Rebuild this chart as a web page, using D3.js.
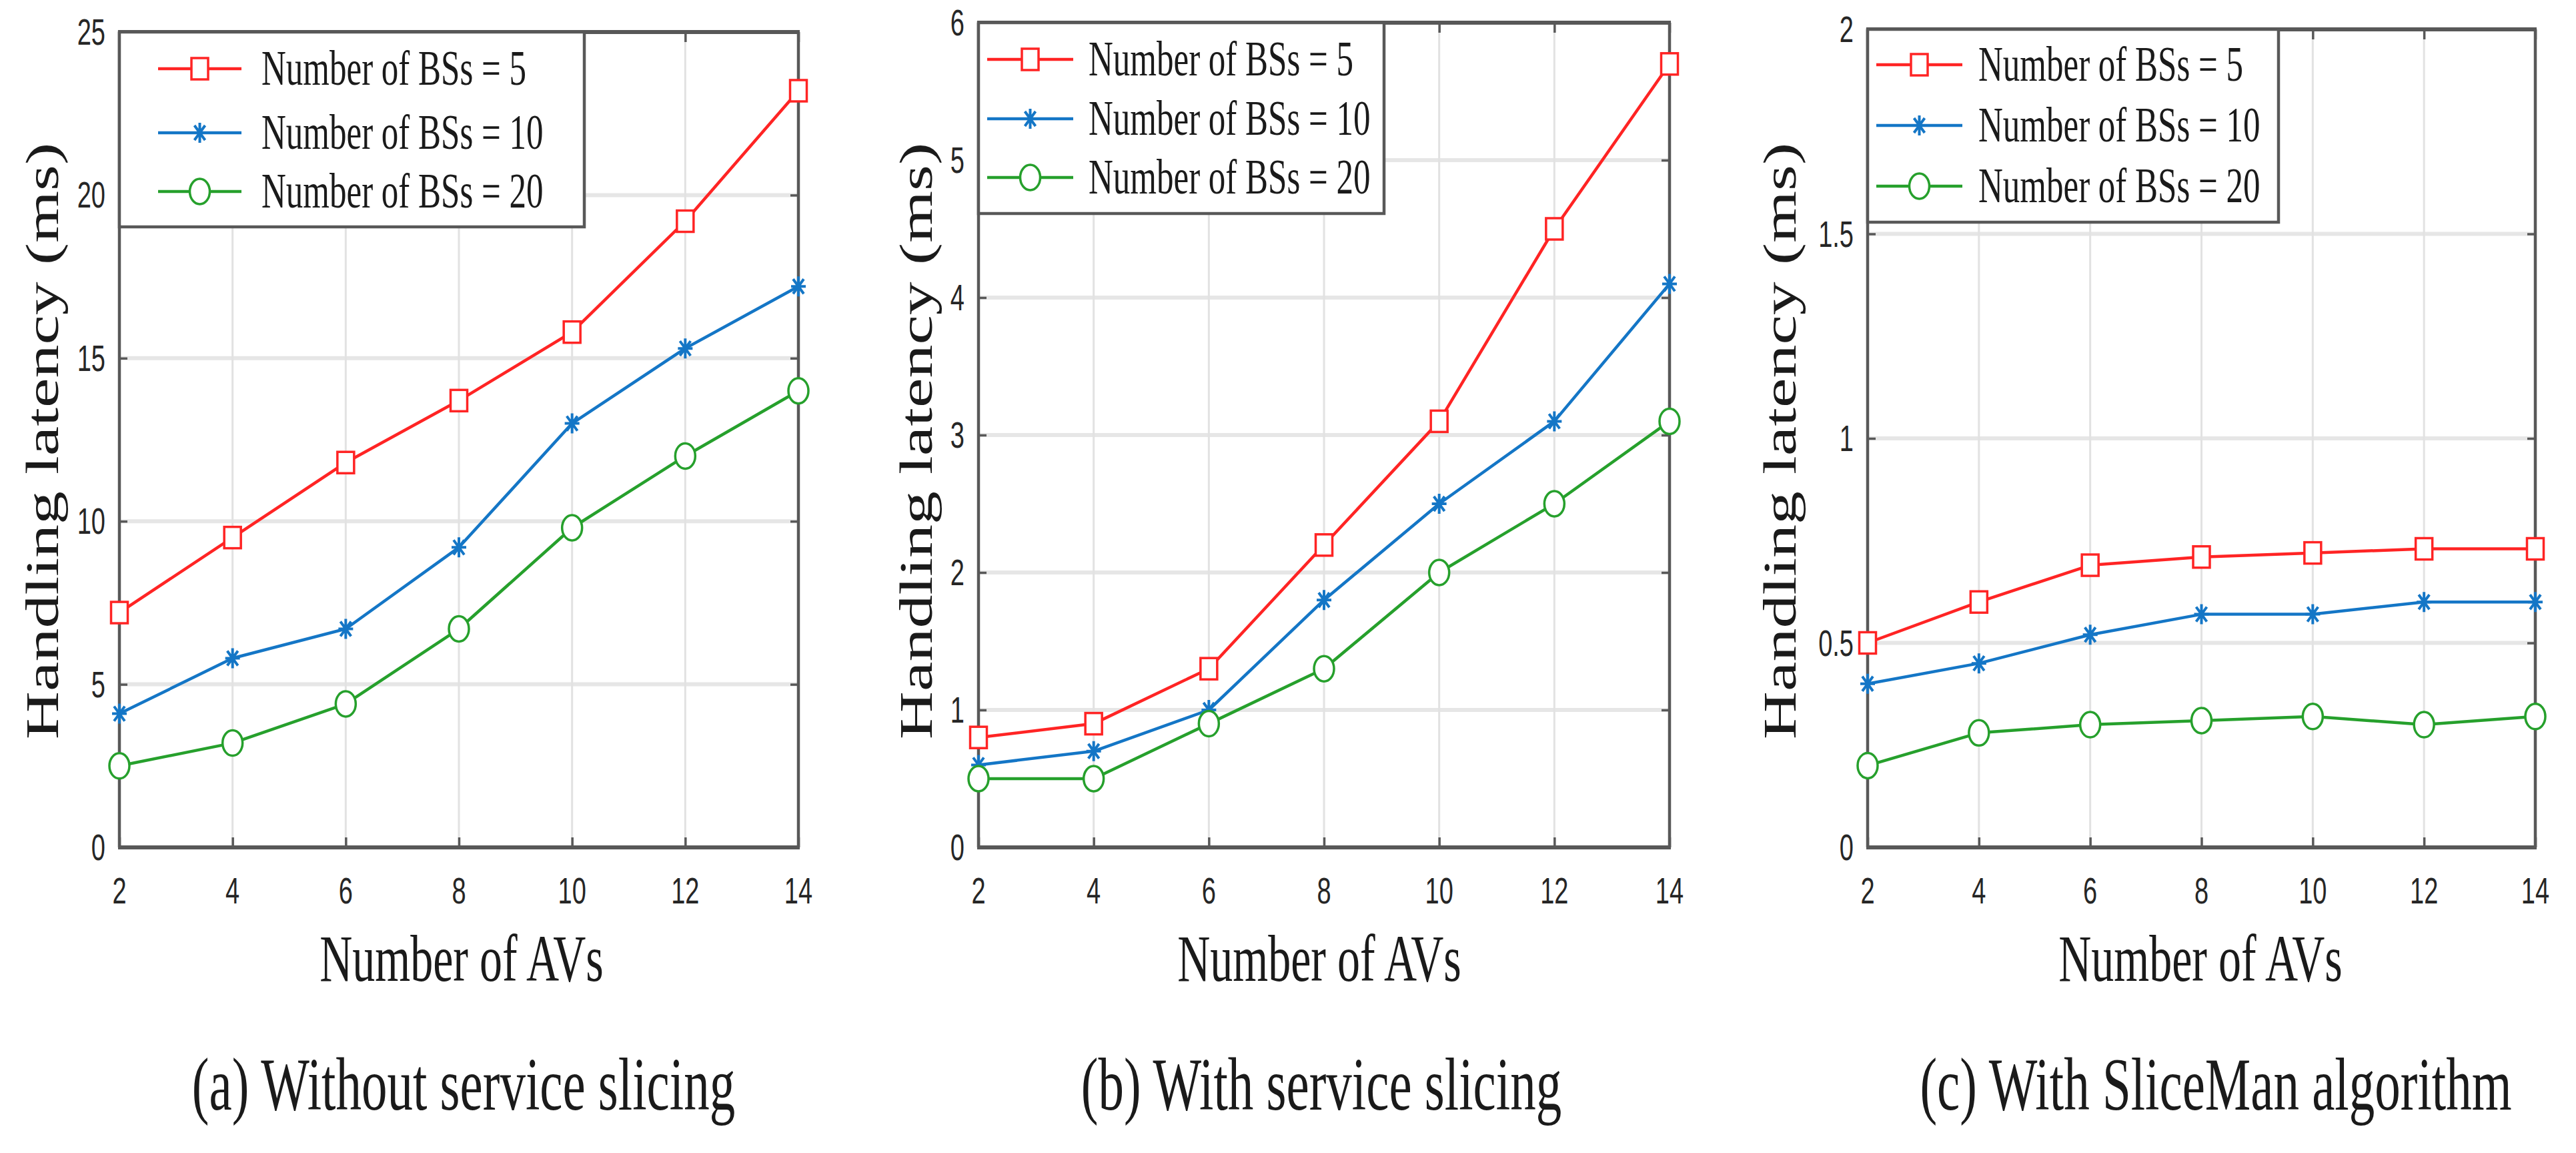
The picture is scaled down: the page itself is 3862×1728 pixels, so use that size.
<!DOCTYPE html>
<html>
<head>
<meta charset="utf-8">
<script src="https://cdn.jsdelivr.net/npm/d3@7"></script>
<style>
  html, body { margin: 0; padding: 0; background: #fff; }
  svg { display: block; }
</style>
</head>
<body>
<svg id="chart" width="3862" height="1728"></svg>
<script>
// values
var avCounts = [2, 4, 6, 8, 10, 12, 14];
var seriesNames = ['Number of BSs = 5', 'Number of BSs = 10', 'Number of BSs = 20'];

var noSlicingBS5  = [7.2, 9.5, 11.8, 13.7, 15.8, 19.2, 23.2];
var noSlicingBS10 = [4.1, 5.8, 6.7, 9.2, 13.0, 15.3, 17.2];
var noSlicingBS20 = [2.5, 3.2, 4.4, 6.7, 9.8, 12.0, 14.0];

var slicingBS5  = [0.8, 0.9, 1.3, 2.2, 3.1, 4.5, 5.7];
var slicingBS10 = [0.6, 0.7, 1.0, 1.8, 2.5, 3.1, 4.1];
var slicingBS20 = [0.5, 0.5, 0.9, 1.3, 2.0, 2.5, 3.1];

var sliceManBS5  = [0.5, 0.6, 0.69, 0.71, 0.72, 0.73, 0.73];
var sliceManBS10 = [0.4, 0.45, 0.52, 0.57, 0.57, 0.6, 0.6];
var sliceManBS20 = [0.2, 0.28, 0.3, 0.31, 0.32, 0.3, 0.32];

var yTicksA = [0, 5, 10, 15, 20, 25];
var yTicksB = [0, 1, 2, 3, 4, 5, 6];
var yTicksC = [0, 0.5, 1, 1.5, 2];

var captions = ['(a) Without service slicing', '(b) With service slicing', '(c) With SliceMan algorithm'];
var xLabel = 'Number of AVs';
var yLabel = 'Handling latency (ms)';

// styling
var colors = ['#ff2424', '#1476c6', '#26a02c'];
var markers = ['square', 'star', 'circle'];
var SY = 1.45; // the source figure is stretched vertically
var serif = '"Liberation Serif", "Times New Roman", serif';
var sans = '"Liberation Sans", Arial, sans-serif';
var frameColor = '#585858';

// layout of each panel
var panels = [
  {series: [noSlicingBS5, noSlicingBS10, noSlicingBS20], ticks: yTicksA,
   left: 179, right: 1197, top: 48, bottom: 1270,
   leg: {w: 697, h: 292, line0: 58, line1: 183, text: 213, rows: [55, 151, 239]},
   yLabBase: 92, xLabCx: 692, capCx: 695},
  {series: [slicingBS5, slicingBS10, slicingBS20], ticks: yTicksB,
   left: 1467, right: 2503, top: 34, bottom: 1270,
   leg: {w: 608, h: 286, line0: 13, line1: 142, text: 165, rows: [55, 144, 232]},
   yLabBase: 70, xLabCx: 1978, capCx: 1981},
  {series: [sliceManBS5, sliceManBS10, sliceManBS20], ticks: yTicksC,
   left: 2800, right: 3801, top: 44, bottom: 1270,
   leg: {w: 616, h: 289, line0: 13, line1: 142, text: 166, rows: [53, 144, 235]},
   yLabBase: 108, xLabCx: 3299, capCx: 3322}
];

var svg = d3.select('#chart');
svg.append('rect').attr('width', 3862).attr('height', 1728).attr('fill', '#fff');

// text drawn at a baseline and stretched vertically like the source
var stretchText = function(parent, x, y, str, size, family, anchor) {
  return parent.append('text')
    .attr('transform', 'translate(' + x + ',' + y + ') scale(1,' + SY + ')')
    .attr('font-family', family)
    .attr('font-size', size)
    .attr('text-anchor', anchor || 'middle')
    .attr('fill', '#1a1a1a')
    .text(str);
};

var drawMarker = function(g, kind, color, x, y) {
  if (kind === 'square') {
    g.append('rect').attr('x', x - 12.5).attr('y', y - 16).attr('width', 25).attr('height', 32)
      .attr('fill', '#fff').attr('stroke', color).attr('stroke-width', 3.5);
  } else if (kind === 'circle') {
    g.append('ellipse').attr('cx', x).attr('cy', y).attr('rx', 15).attr('ry', 19)
      .attr('fill', '#fff').attr('stroke', color).attr('stroke-width', 3.5);
  } else {
    var a = 11, b = 15, c = 8, d = 11;
    g.append('path')
      .attr('d', 'M' + x + ',' + (y - b) + 'V' + (y + b) +
                 'M' + (x - a) + ',' + y + 'H' + (x + a) +
                 'M' + (x - c) + ',' + (y - d) + 'L' + (x + c) + ',' + (y + d) +
                 'M' + (x - c) + ',' + (y + d) + 'L' + (x + c) + ',' + (y - d))
      .attr('stroke', color).attr('stroke-width', 4).attr('fill', 'none');
  }
};

panels.forEach(function(p, pi) {
  var g = svg.append('g');
  var x = d3.scaleLinear().domain([2, 14]).range([p.left, p.right]);
  var yMax = p.ticks[p.ticks.length - 1];
  var y = d3.scaleLinear().domain([0, yMax]).range([p.bottom, p.top]);

  // grid
  g.append('g').selectAll('line.hg').data(p.ticks.slice(1, -1)).enter().append('line')
    .attr('x1', p.left).attr('x2', p.right)
    .attr('y1', function(d) { return y(d); }).attr('y2', function(d) { return y(d); })
    .attr('stroke', '#e6e6e6').attr('stroke-width', 6);
  g.append('g').selectAll('line.vg').data(avCounts.slice(1, -1)).enter().append('line')
    .attr('x1', function(d) { return x(d); }).attr('x2', function(d) { return x(d); })
    .attr('y1', p.top).attr('y2', p.bottom)
    .attr('stroke', '#e2e2e2').attr('stroke-width', 3);

  // axes with inward ticks
  var styleAxis = function(sel) {
    sel.select('.domain').remove();
    sel.selectAll('.tick line').attr('stroke', frameColor).attr('stroke-width', 3.5);
  };
  g.append('g').attr('transform', 'translate(0,' + p.bottom + ')')
    .call(d3.axisBottom(x).tickValues(avCounts).tickSize(-15).tickFormat(''))
    .call(styleAxis);
  g.append('g').attr('transform', 'translate(0,' + p.top + ')')
    .call(d3.axisTop(x).tickValues(avCounts).tickSize(-15).tickFormat(''))
    .call(styleAxis);
  g.append('g').attr('transform', 'translate(' + p.left + ',0)')
    .call(d3.axisLeft(y).tickValues(p.ticks).tickSize(-12).tickFormat(''))
    .call(styleAxis);
  g.append('g').attr('transform', 'translate(' + p.right + ',0)')
    .call(d3.axisRight(y).tickValues(p.ticks).tickSize(-12).tickFormat(''))
    .call(styleAxis);

  // tick labels
  avCounts.forEach(function(v) {
    stretchText(g, x(v), 1354, String(v), 38, sans, 'middle').attr('fill', '#262626');
  });
  p.ticks.forEach(function(v) {
    stretchText(g, p.left - 21, y(v) + 19, String(v), 38, sans, 'end').attr('fill', '#262626');
  });

  // frame
  g.append('line').attr('x1', p.left).attr('x2', p.left).attr('y1', p.top).attr('y2', p.bottom)
    .attr('stroke', frameColor).attr('stroke-width', 4.5);
  g.append('line').attr('x1', p.right).attr('x2', p.right).attr('y1', p.top).attr('y2', p.bottom)
    .attr('stroke', frameColor).attr('stroke-width', 4.5);
  g.append('line').attr('x1', p.left - 2).attr('x2', p.right + 2).attr('y1', p.top).attr('y2', p.top)
    .attr('stroke', frameColor).attr('stroke-width', 6);
  g.append('line').attr('x1', p.left - 2).attr('x2', p.right + 2).attr('y1', p.bottom).attr('y2', p.bottom)
    .attr('stroke', frameColor).attr('stroke-width', 6);

  // series
  var line = d3.line().x(function(d, i) { return x(avCounts[i]); }).y(function(d) { return y(d); });
  p.series.forEach(function(vals, si) {
    g.append('path').datum(vals).attr('d', line)
      .attr('fill', 'none').attr('stroke', colors[si]).attr('stroke-width', 4.5)
      .attr('stroke-linejoin', 'round');
    vals.forEach(function(v, i) {
      drawMarker(g, markers[si], colors[si], x(avCounts[i]), y(v));
    });
  });

  // legend
  var L = p.leg;
  var lg = g.append('g').attr('transform', 'translate(' + p.left + ',' + p.top + ')');
  lg.append('rect').attr('x', 0).attr('y', 0).attr('width', L.w).attr('height', L.h)
    .attr('fill', '#fff').attr('stroke', frameColor).attr('stroke-width', 4.5);
  seriesNames.forEach(function(name, si) {
    var ry = L.rows[si];
    lg.append('line').attr('x1', L.line0).attr('x2', L.line1).attr('y1', ry).attr('y2', ry)
      .attr('stroke', colors[si]).attr('stroke-width', 4.5);
    drawMarker(lg, markers[si], colors[si], (L.line0 + L.line1) / 2, ry);
    stretchText(lg, L.text, ry + 24, name, 51, serif, 'start');
  });

  // axis titles and caption
  g.append('text')
    .attr('transform', 'translate(' + (p.left - p.yLabBase) + ',661) rotate(-90) scale(' + SY + ',1)')
    .attr('font-family', serif).attr('font-size', 69).attr('text-anchor', 'middle')
    .attr('fill', '#1a1a1a').text(yLabel);
  stretchText(g, p.xLabCx, 1470, xLabel, 68, serif, 'middle');
  stretchText(g, p.capCx, 1663, captions[pi], 77, serif, 'middle');
});
</script>
</body>
</html>
